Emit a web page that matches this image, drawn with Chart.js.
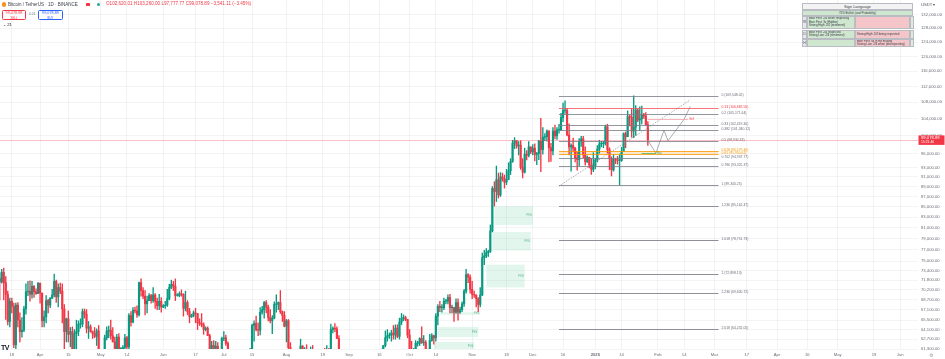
<!DOCTYPE html>
<html>
<head>
<meta charset="utf-8">
<script src="https://cdn.jsdelivr.net/npm/chart.js@4.4.1/dist/chart.umd.min.js"></script>
<style>
  html,body{margin:0;padding:0;background:#ffffff;}
  #wrap{position:relative;width:945px;height:359px;overflow:hidden;font-family:"Liberation Sans",Arial,sans-serif;}
  #c{position:absolute;left:0;top:0;}
  .a{position:absolute;white-space:nowrap;line-height:1;}
  .cell{position:absolute;box-sizing:border-box;border:0.5px solid #b9bcc2;font-size:2.9px;line-height:3.3px;color:#3a3d45;padding:0.6px 1px;overflow:hidden;white-space:nowrap;}
</style>
</head>
<body>
<div id="wrap">
  <canvas id="c" width="945" height="359"></canvas>

  <!-- header -->
  <div class="a" style="left:2px;top:2.4px;width:4.4px;height:4.4px;border-radius:50%;background:#f7931a"></div>
  <div class="a" style="left:8px;top:2.5px;font-size:4.5px;color:#3c3f48">Bitcoin / TetherUS · 1D · BINANCE</div>
  <div class="a" style="left:86px;top:2.6px;width:3.6px;height:3.6px;background:#f23645;border-radius:0.6px"></div>
  <div class="a" style="left:96.5px;top:3px;width:3px;height:3px;border-radius:50%;background:#22ab94"></div>
  <div class="a" style="left:106px;top:2.4px;font-size:4.6px;color:#f23645">O102,620.01 H103,260.00 L97,777.77 C99,078.89 −3,541.11 (−3.45%)</div>

  <div class="a" style="left:2px;top:9.5px;width:24px;height:10.5px;box-sizing:border-box;border:0.6px solid #f23645;border-radius:1.5px;background:#fff;text-align:center;color:#f23645">
    <div style="font-size:3.8px;margin-top:1.6px">99,078.88</div>
    <div style="font-size:2.8px;margin-top:1.2px">SELL</div>
  </div>
  <div class="a" style="left:29px;top:13px;font-size:3.4px;color:#787b86">0.01</div>
  <div class="a" style="left:38px;top:9.5px;width:25px;height:10.5px;box-sizing:border-box;border:0.6px solid #2962ff;border-radius:1.5px;background:#fff;text-align:center;color:#2962ff">
    <div style="font-size:3.8px;margin-top:1.6px">99,078.89</div>
    <div style="font-size:2.8px;margin-top:1.2px">BUY</div>
  </div>
  <div class="a" style="left:3px;top:22.5px;font-size:4.2px;color:#131722">⌄ 21</div>

  <!-- Sign Language table -->
  <div class="cell" style="left:802px;top:3px;width:111px;height:7.3px;background:#f3f3f3;text-align:center;font-size:4px;line-height:6px;padding:0">Sign Language</div>
  <div class="cell" style="left:802px;top:10.3px;width:111px;height:5.5px;background:#cfe6cf;text-align:center;line-height:4.5px;padding:0">73% Bullish (and Probability)</div>
  <div class="cell" style="left:802px;top:15.8px;width:5px;height:13.7px;background:#e6e7ea;text-align:center;padding:4px 0">W</div>
  <div class="cell" style="left:807px;top:15.8px;width:48px;height:13.7px;background:#cfe6cf">Bear First: 2/4 when respecting<br>Bear First: 3x (Hidden)<br>Strong High: 2/4 (sentiment)</div>
  <div class="cell" style="left:855px;top:15.8px;width:55px;height:13.7px;background:#f5c6c9"></div>
  <div class="cell" style="left:910px;top:15.8px;width:3px;height:13.7px;background:#dfeadf"></div>
  <div class="cell" style="left:802px;top:29.5px;width:5px;height:9px;background:#e6e7ea;text-align:center;padding:2.5px 0">D</div>
  <div class="cell" style="left:807px;top:29.5px;width:48px;height:9px;background:#cfe6cf">Bear First: 2/4 respected<br>Strong Low: 2/4 (sentiment)</div>
  <div class="cell" style="left:855px;top:29.5px;width:55px;height:9px;background:#f5c6c9;padding-top:2.4px">Strong High: 2/4 being respected</div>
  <div class="cell" style="left:910px;top:29.5px;width:3px;height:9px;background:#dfeadf"></div>
  <div class="cell" style="left:802px;top:38.5px;width:5px;height:8.5px;background:#e6e7ea;text-align:center;padding:2.5px 0">H</div>
  <div class="cell" style="left:807px;top:38.5px;width:48px;height:8.5px;background:#cfe6cf"></div>
  <div class="cell" style="left:855px;top:38.5px;width:55px;height:8.5px;background:#f5c6c9">Bear First: 4x in the making<br>Strong Low: 2/4 when (disrespecting)</div>
  <div class="cell" style="left:910px;top:38.5px;width:3px;height:8.5px;background:#dfeadf"></div>

  <!-- price scale header / footer -->
  <div class="a" style="left:921px;top:3px;font-size:4.2px;color:#50535e">USDT ▾</div>
  <div class="a" style="left:929px;top:352.5px;font-size:5px;color:#9a9ca5;font-family:'DejaVu Sans'">⚙</div>
  <div class="a" style="left:1px;top:344px;font-size:7px;font-weight:bold;color:#131722;letter-spacing:-0.6px">TV</div>
</div>

<script>
// ---------------- DATA ----------------
const startDate = '2024-03-12';   // first daily candle
// prices in thousands of USDT
const open = [
  72.1,71.5,73.1,71.4,69.5,65.3,68.4,67.6,61.9,67.8,65.5,63.8,64.0,67.2,69.9,70.0,69.5,70.8,69.9,69.6,
  71.3,69.7,65.4,66.0,68.5,67.8,68.9,69.4,71.6,69.1,70.6,70.0,67.2,63.8,65.7,63.4,63.8,61.3,63.5,63.8,64.9,64.9,66.8,66.4,64.3,64.5,63.8,63.5,63.1,63.9,
  60.7,58.4,59.1,62.9,63.9,64.0,63.2,62.3,61.2,63.0,60.8,60.8,61.5,62.9,61.6,66.2,65.2,67.0,66.9,66.3,71.4,70.1,69.2,68.0,68.5,69.3,68.5,69.4,68.4,67.7,68.4,
  67.5,67.7,67.8,68.8,70.6,71.1,70.8,69.3,69.3,69.6,69.5,67.3,68.2,66.8,66.0,66.2,66.6,66.5,65.1,65.0,64.8,64.1,64.3,63.2,60.3,61.8,60.9,61.7,60.4,61.0,
  62.8,62.9,62.1,60.2,57.1,56.7,58.2,55.9,56.7,58.1,57.7,57.3,57.9,59.2,60.8,64.7,65.0,64.1,64.0,66.7,67.1,68.2,67.5,65.9,65.4,65.8,67.9,67.9,68.2,66.8,66.2,
  64.6,65.4,61.5,60.7,58.2,54.0,56.0,55.1,61.7,60.8,60.9,58.7,59.3,60.6,58.7,57.5,58.9,59.5,58.4,59.4,59.0,61.2,60.4,64.1,64.3,64.2,62.8,59.4,59.0,59.4,59.1,
  59.0,57.3,59.1,57.5,58.0,56.2,54.0,54.2,54.9,57.1,57.6,57.3,58.1,60.6,60.0,59.2,58.2,60.3,61.8,62.9,63.2,63.3,63.6,63.3,64.3,63.1,65.2,65.8,65.9,65.6,
  63.3,60.8,60.6,60.8,62.1,62.1,62.8,62.2,62.2,60.6,60.3,62.5,63.2,62.9,66.1,67.6,67.4,67.4,68.4,68.4,69.0,67.4,67.4,66.7,68.2,66.7,67.1,68.0,70.0,72.7,72.3,
  70.3,69.5,69.4,68.8,67.9,69.4,75.6,75.9,76.5,76.7,80.4,88.6,88.0,90.4,87.3,91.0,90.6,89.9,90.5,92.3,94.3,98.3,98.9,97.7,97.9,93.0,92.0,95.9,95.6,97.5,
  96.4,97.2,95.8,96.0,98.8,96.9,99.7,99.8,101.1,97.3,96.6,101.1,100.0,101.4,101.4,104.3,106.0,106.0,100.2,97.5,97.8,97.2,95.1,94.7,98.7,99.3,95.8,94.2,95.2,93.5,92.6,
  93.4,94.6,97.0,98.2,98.2,98.3,102.1,96.9,95.0,92.5,94.7,94.6,94.5,94.5,96.5,100.5,99.8,104.5,104.4,101.1,102.0,106.1,103.7,104.0,104.8,104.7,102.6
];
const high = [
  73.0,73.6,73.8,72.4,70.0,68.9,68.9,68.1,68.1,68.2,66.6,65.9,67.6,71.2,71.6,71.7,71.6,70.9,70.4,71.4,
  71.3,69.7,66.9,69.3,68.7,69.0,70.3,72.8,71.8,71.2,71.3,71.2,67.9,65.8,66.9,64.4,64.5,64.1,65.5,65.4,65.7,67.2,67.2,67.1,65.3,64.8,63.9,64.4,64.2,64.7,
  60.8,59.6,63.3,64.5,64.6,65.5,64.4,63.0,63.4,63.5,61.5,61.8,63.4,63.1,66.5,66.8,67.4,67.5,67.7,71.5,72.0,70.6,70.1,69.2,69.6,69.5,70.6,69.6,68.9,69.5,69.0,
  67.9,68.4,70.3,71.1,71.8,71.6,72.0,69.6,69.9,70.2,69.6,70.0,68.5,67.3,66.4,66.9,67.3,66.5,65.7,66.5,65.1,64.5,64.5,63.4,62.4,62.5,62.4,62.2,61.2,63.0,
  63.8,63.3,62.3,60.5,57.5,58.5,58.4,58.2,58.3,59.5,59.4,58.5,59.9,61.4,64.9,65.4,66.1,65.1,67.4,67.6,68.4,68.5,67.8,67.1,66.2,68.3,69.4,68.3,70.1,66.9,66.8,
  65.6,65.6,62.2,61.1,58.3,57.0,57.7,62.7,61.8,61.5,61.9,60.7,61.6,61.8,59.8,59.8,59.7,60.3,59.6,61.4,61.8,61.4,64.9,64.5,65.0,64.5,63.2,60.2,61.2,59.8,59.4,
  59.0,59.4,59.8,58.5,58.3,57.0,54.9,55.3,58.1,58.0,57.9,58.6,60.6,60.7,60.4,59.2,61.3,61.8,63.9,64.1,63.6,64.0,64.7,64.8,64.8,65.8,66.5,66.3,66.1,65.6,
  64.1,62.4,61.4,62.5,62.4,62.9,64.5,63.2,62.5,61.3,63.4,63.5,63.3,66.5,67.9,68.4,67.9,68.9,68.7,69.4,69.5,67.8,67.5,68.8,68.8,67.5,68.3,70.3,73.6,72.9,72.7,
  71.6,70.0,69.4,69.0,70.6,76.4,76.9,77.2,76.9,81.5,89.0,90.0,93.3,91.8,91.9,91.8,91.4,92.6,94.0,94.9,99.0,99.6,98.9,98.7,98.9,94.9,97.2,96.7,98.7,97.5,
  98.0,98.2,96.3,99.0,104.1,101.9,100.5,101.4,101.2,98.3,101.9,102.5,101.9,102.7,105.3,107.8,108.4,106.5,102.8,98.2,99.5,97.4,96.4,99.4,99.9,99.9,97.5,95.5,95.2,94.9,96.2,
  95.0,97.8,99.0,98.7,98.8,102.5,102.7,97.3,95.3,95.8,95.0,95.4,95.9,97.4,100.7,100.9,105.9,104.9,106.4,109.6,107.2,106.4,106.9,107.1,105.3,105.5,103.3
];
const low = [
  68.6,71.3,68.6,65.6,64.8,64.5,66.6,61.5,60.8,64.5,62.3,63.0,63.8,66.4,69.3,68.4,68.9,69.0,69.5,69.6,
  68.1,64.5,64.5,65.1,66.6,67.4,68.8,69.1,68.2,67.5,69.6,65.1,60.7,62.3,62.3,61.6,59.8,60.8,59.6,63.2,64.3,64.5,65.8,63.6,62.8,63.7,62.8,62.9,61.8,59.2,
  56.6,56.9,58.8,62.6,62.9,62.7,62.3,60.9,60.6,60.2,60.5,60.6,60.8,61.1,61.3,64.6,65.1,66.6,65.9,66.1,69.2,68.8,66.3,66.6,68.5,68.1,68.2,67.3,67.1,67.1,66.7,
  67.4,67.3,67.6,68.6,70.4,70.1,68.5,69.2,69.1,69.2,66.1,66.9,66.3,65.1,65.9,66.0,65.1,64.1,64.7,64.5,63.4,63.9,63.2,58.4,60.2,60.7,60.6,60.0,60.4,60.7,
  62.5,61.8,59.4,56.8,53.5,56.0,55.7,54.3,56.3,57.2,57.1,56.5,57.8,59.0,60.6,62.4,63.9,63.2,63.3,66.4,65.8,66.6,65.4,65.1,63.5,65.7,66.7,67.1,66.5,65.3,64.5,
  62.3,61.2,59.9,57.2,49.0,54.0,54.6,54.7,59.6,60.3,58.4,57.6,58.5,58.4,56.1,57.1,58.8,58.4,57.8,58.6,58.8,59.8,60.3,63.6,63.8,62.8,58.1,57.9,58.8,57.8,58.7,
  57.2,57.1,57.4,55.6,55.7,52.6,53.7,53.6,54.6,56.4,55.5,57.3,57.6,59.5,58.7,57.5,57.6,59.2,61.6,62.4,62.8,62.4,62.7,62.7,62.9,62.7,64.8,65.4,65.4,62.9,
  60.2,60.0,59.8,60.5,61.7,61.8,62.1,61.8,60.5,58.9,60.1,62.4,62.0,62.4,64.8,66.8,66.7,67.1,68.0,68.0,66.6,66.6,65.3,66.5,65.5,66.5,66.8,67.6,69.7,71.4,69.7,
  68.8,69.0,67.5,66.8,67.5,69.3,74.4,75.6,75.8,76.5,80.2,85.1,86.0,86.7,87.0,90.1,88.7,89.4,90.4,91.5,94.1,97.1,97.2,95.7,92.6,90.8,91.8,94.6,95.3,96.0,
  95.7,94.4,93.6,94.7,92.1,95.9,98.9,98.8,94.2,94.3,95.7,99.3,99.2,100.6,101.2,103.3,105.3,100.0,95.7,92.2,96.4,94.2,92.4,93.4,97.6,95.1,93.5,94.1,92.9,91.5,92.1,
  92.7,94.2,96.1,97.5,97.3,97.9,96.1,92.5,91.2,92.2,93.8,93.7,89.3,94.3,96.5,97.3,99.8,102.3,99.7,99.6,100.1,103.3,101.2,102.8,104.1,102.5,97.8
];
const close = [
  71.5,73.1,71.4,69.5,65.3,68.4,67.6,61.9,67.8,65.5,63.8,64.0,67.2,69.9,70.0,69.5,70.8,69.9,69.6,71.3,
  69.7,65.4,66.0,68.5,67.8,68.9,69.4,71.6,69.1,70.6,70.0,67.2,63.8,65.7,63.4,63.8,61.3,63.5,63.8,64.9,64.9,66.8,66.4,64.3,64.5,63.8,63.5,63.1,63.9,60.7,
  58.4,59.1,62.9,63.9,64.0,63.2,62.3,61.2,63.0,60.8,60.8,61.5,62.9,61.6,66.2,65.2,67.0,66.9,66.3,71.4,70.1,69.2,68.0,68.5,69.3,68.5,69.4,68.4,67.7,68.4,67.5,
  67.7,67.8,68.8,70.6,71.1,70.8,69.3,69.3,69.6,69.5,67.3,68.2,66.8,66.0,66.2,66.6,66.5,65.1,65.0,64.8,64.1,64.3,63.2,60.3,61.8,60.9,61.7,60.4,61.0,62.8,
  62.9,62.1,60.2,57.1,56.7,58.2,55.9,56.7,58.1,57.7,57.3,57.9,59.2,60.8,64.7,65.0,64.1,64.0,66.7,67.1,68.2,67.5,65.9,65.4,65.8,67.9,67.9,68.2,66.8,66.2,64.6,
  65.4,61.5,60.7,58.2,54.0,56.0,55.1,61.7,60.8,60.9,58.7,59.3,60.6,58.7,57.5,58.9,59.5,58.4,59.4,59.0,61.2,60.4,64.1,64.3,64.2,62.8,59.4,59.0,59.4,59.1,59.0,
  57.3,59.1,57.5,58.0,56.2,54.0,54.2,54.9,57.1,57.6,57.3,58.1,60.6,60.0,59.2,58.2,60.3,61.8,62.9,63.2,63.3,63.6,63.3,64.3,63.1,65.2,65.8,65.9,65.6,63.3,
  60.8,60.6,60.8,62.1,62.1,62.8,62.2,62.2,60.6,60.3,62.5,63.2,62.9,66.1,67.6,67.4,67.4,68.4,68.4,69.0,67.4,67.4,66.7,68.2,66.7,67.1,68.0,70.0,72.7,72.3,70.3,
  69.5,69.4,68.8,67.9,69.4,75.6,75.9,76.5,76.7,80.4,88.6,88.0,90.4,87.3,91.0,90.6,89.9,90.5,92.3,94.3,98.3,98.9,97.7,97.9,93.0,92.0,95.9,95.6,97.5,96.4,
  97.2,95.8,96.0,98.8,96.9,99.7,99.8,101.1,97.3,96.6,101.1,100.0,101.4,101.4,104.3,106.0,106.0,100.2,97.5,97.8,97.2,95.1,94.7,98.7,99.3,95.8,94.2,95.2,93.5,92.6,93.4,
  94.6,97.0,98.2,98.2,98.3,102.1,96.9,95.0,92.5,94.7,94.6,94.5,94.5,96.5,100.5,99.8,104.5,104.4,101.1,102.0,106.1,103.7,104.0,104.8,104.7,102.6,99.1
];
const lastPrice = 99.07889;
const lastPriceLabel = '99,078.89';
const countdown = '15:21:40';

// time axis
const xTickDates = ['2024-03-18','2024-04-01','2024-04-15','2024-05-01','2024-05-14','2024-06-01','2024-06-17','2024-07-01','2024-07-15','2024-08-01','2024-08-19','2024-09-01','2024-09-16','2024-10-01','2024-10-14','2024-11-01','2024-11-18','2024-12-01','2024-12-16','2025-01-01','2025-01-14','2025-02-01','2025-02-14','2025-03-01','2025-03-17','2025-04-01','2025-04-16','2025-05-01','2025-05-19','2025-06-01'];
const xTickLabels = ['18','Apr','15','May','14','Jun','17','Jul','15','Aug','19','Sep','16','Oct','14','Nov','18','Dec','16','2025','14','Feb','14','Mar','17','Apr','16','May','19','Jun'];
const xViewFrom = '2024-03-13', xViewTo = '2025-06-09';

// price axis (thousands)
const yTickValues = [132,128,124,120,116,112,108,104,100,96,93,91,89,87,85,83,81,79,77,75,73.4,71.8,70.2,68.7,67.1,65.5,64.1,62.7,61.3];
const yTickLabels = ['132,000.00','128,000.00','124,000.00','120,000.00','116,000.00','112,000.00','108,000.00','104,000.00','100,000.00','96,000.00','93,000.00','91,000.00','89,000.00','87,000.00','85,000.00','83,000.00','81,000.00','79,000.00','77,000.00','75,000.00','73,400.00','71,800.00','70,200.00','68,700.00','67,100.00','65,500.00','64,100.00','62,700.00','61,300.00'];
const yMin = 61.3, yMax = 136.6;

// fibonacci drawing
const fibFrom = '2024-12-14', fibTo = '2025-03-03';
const fibLevels = ['0','0.13','0.2','0.33','0.382','0.5','0.618','0.65','0.702','0.786','1','1.236','1.618','2','2.236','2.618'];
const fibPrices = [109.54802,106.6825,105.17164,102.4193,101.34012,98.93018,96.5794,95.95061,94.93777,93.32537,89.34025,85.16247,78.75173,72.89813,69.63072,64.23205];
const fibPriceLabels = ['109,548.02','106,682.50','105,171.64','102,419.30','101,340.12','98,930.18','96,579.40','95,950.61','94,937.77','93,325.37','89,340.25','85,162.47','78,751.73','72,898.13','69,630.72','64,232.05'];
const fibColors = ['#787b86','#f7525f','#787b86','#787b86','#787b86','#787b86','#ff9800','#ff9800','#787b86','#787b86','#787b86','#8f9199','#8f9199','#8f9199','#8f9199','#8f9199'];

// dotted trend line and projected path
const trendDates = ['2024-12-14','2025-02-17'];
const trendPrices = [89.1, 108.6];
const pathDates = ['2025-01-27','2025-01-31','2025-02-04','2025-02-06','2025-02-14','2025-02-17'];
const pathPrices = [99.0, 96.1, 101.3, 98.9, 103.9, 107.0];

// fair value gap boxes
const fvgFrom = ['2024-11-12','2024-11-11','2024-11-08','2024-10-15','2024-10-13','2024-10-16'];
const fvgTo   = ['2024-12-01','2024-11-30','2024-11-27','2024-11-04','2024-11-02','2024-11-05'];
const fvgLow  = [81.5, 76.85, 70.6, 63.0, 61.0, 66.3];
const fvgHigh = [85.1, 80.2, 74.4, 64.5, 62.3, 66.7];
const fvgText = ['FVG','FVG','FVG','FVG','FVG','FVG'];

// small marker lines near the last candle
const markFrom = ['2025-01-27','2025-01-24'];
const markTo = ['2025-02-16','2025-01-31'];
const markPrice = [103.9, 96.1];
const markText = ['Sell','Buy'];
const markColor = ['#f7a1a8','#4caf50'];

// ---------------- RENDER ----------------
const D0 = Date.UTC(2025, 0, 1);
function day(s){ const p = s.split('-').map(Number); return (Date.UTC(p[0], p[1]-1, p[2]) - D0) / 86400000; }
const first = day(startDate);
const UP = '#089981', DN = '#f23645';
const cols = close.map((c, i) => c >= open[i] ? UP : DN);
const bodies = close.map((c, i) => ({x: first + i, y: [open[i], c]}));
const wicks = close.map((c, i) => ({x: first + i, y: [low[i], high[i]]}));
const trendPts = trendDates.map((d, i) => ({x: day(d), y: trendPrices[i]}));
const pathPts = pathDates.map((d, i) => ({x: day(d), y: pathPrices[i]}));
const FONT = 'Liberation Sans';

const overlay = {
  id: 'overlay',
  beforeDatasetsDraw(chart){
    const {ctx, chartArea: a, scales: {x, y}} = chart;
    ctx.save();
    ctx.beginPath(); ctx.rect(a.left, a.top, a.right - a.left, a.bottom - a.top); ctx.clip();
    for (let i = 0; i < fvgFrom.length; i++) {
      const x0 = x.getPixelForValue(day(fvgFrom[i])), x1 = x.getPixelForValue(day(fvgTo[i]));
      const y0 = y.getPixelForValue(fvgHigh[i]), y1 = y.getPixelForValue(fvgLow[i]);
      ctx.fillStyle = 'rgba(76,200,140,0.16)';
      ctx.fillRect(x0, y0, x1 - x0, y1 - y0);
      ctx.fillStyle = 'rgba(34,150,100,0.75)';
      ctx.font = '2.6px ' + FONT;
      ctx.textAlign = 'right'; ctx.textBaseline = 'middle';
      ctx.fillText(fvgText[i], x1 - 1, (y0 + y1) / 2);
    }
    const fx0 = x.getPixelForValue(day(fibFrom)), fx1 = x.getPixelForValue(day(fibTo));
    const gy0 = y.getPixelForValue(fibPrices[6]), gy1 = y.getPixelForValue(fibPrices[7]);
    ctx.fillStyle = 'rgba(255,152,0,0.2)';
    ctx.fillRect(fx0, gy0, fx1 - fx0, gy1 - gy0);
    ctx.restore();
  },
  afterDatasetsDraw(chart){
    const {ctx, chartArea: a, scales: {x, y}} = chart;
    ctx.save();
    const fx0 = x.getPixelForValue(day(fibFrom)), fx1 = x.getPixelForValue(day(fibTo));
    ctx.font = '3.4px ' + FONT;
    ctx.textAlign = 'left'; ctx.textBaseline = 'middle';
    for (let i = 0; i < fibLevels.length; i++) {
      const py = Math.round(y.getPixelForValue(fibPrices[i])) + 0.5;
      ctx.strokeStyle = fibColors[i];
      ctx.lineWidth = i >= 11 ? 1.1 : 0.8;
      ctx.beginPath(); ctx.moveTo(fx0, py); ctx.lineTo(fx1, py); ctx.stroke();
      ctx.fillStyle = fibColors[i] === '#f7525f' ? '#f23645' : (fibColors[i] === '#ff9800' ? '#f59300' : '#6b6e78');
      ctx.fillText(fibLevels[i] + ' (' + fibPriceLabels[i] + ')', fx1 + 3, py - 1);
    }
    for (let i = 0; i < markFrom.length; i++) {
      const mx0 = x.getPixelForValue(day(markFrom[i])), mx1 = x.getPixelForValue(day(markTo[i]));
      const my = Math.round(y.getPixelForValue(markPrice[i])) + 0.5;
      ctx.strokeStyle = markColor[i]; ctx.lineWidth = 0.8;
      ctx.beginPath(); ctx.moveTo(mx0, my); ctx.lineTo(mx1, my); ctx.stroke();
      ctx.fillStyle = markColor[i] === '#4caf50' ? '#4caf50' : '#f23645';
      ctx.font = '2.8px ' + FONT;
      ctx.fillText(markText[i], mx1 + 1, my);
    }
    const ly = Math.round(y.getPixelForValue(lastPrice)) + 0.5;
    ctx.strokeStyle = 'rgba(242,54,69,0.45)'; ctx.lineWidth = 0.7;
    ctx.beginPath(); ctx.moveTo(a.left, ly); ctx.lineTo(a.right, ly); ctx.stroke();
    ctx.restore();
  },
  afterDraw(chart){
    const {ctx, chartArea: a, scales: {y}} = chart;
    const ly = y.getPixelForValue(lastPrice);
    ctx.save();
    ctx.fillStyle = '#f23645';
    ctx.fillRect(a.right + 0.5, ly - 4.5, 26, 9.5);
    ctx.fillStyle = '#ffffff';
    ctx.textAlign = 'left'; ctx.textBaseline = 'middle';
    ctx.font = '4.2px ' + FONT;
    ctx.fillText(lastPriceLabel, a.right + 3, ly - 1.6);
    ctx.font = '3.4px ' + FONT;
    ctx.fillText(countdown, a.right + 3, ly + 2.5);
    ctx.restore();
  }
};

new Chart(document.getElementById('c'), {
  type: 'bar',
  data: {
    datasets: [
      {label: 'wick', data: wicks, backgroundColor: cols, barThickness: 0.7, grouped: false, order: 3},
      {label: 'body', data: bodies, backgroundColor: cols, barThickness: 1.5, grouped: false, minBarLength: 0.6, order: 2},
      {type: 'line', label: 'trend', data: trendPts, borderColor: '#8d9099', borderWidth: 0.8, borderDash: [1.4, 1.4], pointRadius: 0, order: 1},
      {type: 'line', label: 'path', data: pathPts, borderColor: '#9598a1', borderWidth: 0.8, pointRadius: 0, order: 0}
    ]
  },
  options: {
    responsive: false, animation: false, devicePixelRatio: 1,
    layout: {padding: 0},
    plugins: {legend: {display: false}, tooltip: {enabled: false}},
    scales: {
      x: {
        type: 'linear', min: day(xViewFrom) - 0.85, max: day(xViewTo) + 0.8, offset: false,
        grid: {color: 'rgba(42,46,57,0.06)', drawTicks: false, offset: false},
        border: {display: false},
        ticks: {
          autoSkip: false, maxRotation: 0, minRotation: 0, padding: 3, color: '#6b6f7a',
          font: (c) => ({family: FONT, size: 4.2, weight: (c.index === xTickLabels.indexOf('2025')) ? 'bold' : 'normal'}),
          callback: (v, i) => xTickLabels[i]
        },
        afterBuildTicks: (s) => { s.ticks = xTickDates.map(d => ({value: day(d)})); },
        afterFit: (s) => { s.height = 10; s.paddingLeft = 0; s.paddingRight = 0; }
      },
      y: {
        type: 'logarithmic', position: 'right', min: yMin, max: yMax, beginAtZero: false,
        grid: {color: 'rgba(42,46,57,0.05)', drawTicks: false},
        border: {display: false},
        ticks: {
          autoSkip: false, padding: 3, color: '#6b6f7a',
          font: {family: FONT, size: 4.2},
          callback: (v, i) => yTickLabels[i]
        },
        afterBuildTicks: (s) => { s.ticks = yTickValues.map(v => ({value: v})); },
        afterFit: (s) => { s.width = 27; s.paddingTop = 0; s.paddingBottom = 0; }
      }
    }
  },
  plugins: [overlay]
});
</script>
</body>
</html>
